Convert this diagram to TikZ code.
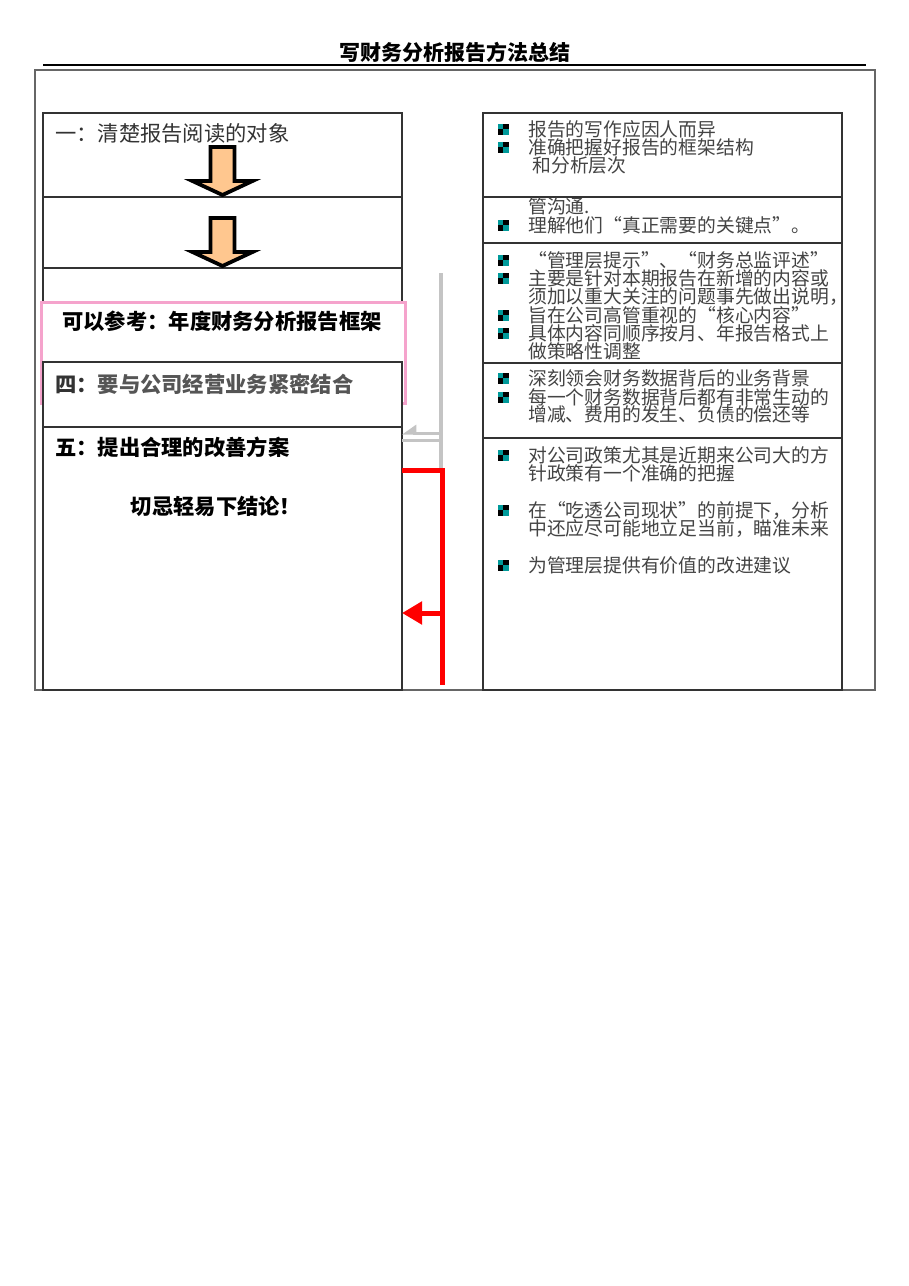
\documentclass[tikz,border=0pt]{standalone}
\usepackage{fontspec}
\setmainfont{Noto Sans CJK SC}
\usepackage{xcolor}
\usetikzlibrary{positioning,arrows.meta}
\definecolor{textGray}{HTML}{444444}
\definecolor{headGray}{HTML}{555555}
\definecolor{arrowFill}{HTML}{FFC78F}
\definecolor{bulletTeal}{HTML}{009A9A}
\definecolor{linkGray}{HTML}{C4C4C4}
\definecolor{framePink}{HTML}{F5A3CC}
\newcommand{\rightFont}{\fontsize{18.8}{18.4}\selectfont}
\newcommand{\leftFont}{\fontsize{21.3}{24}\selectfont}
\tikzset{%
  leftBox/.style={rectangle, draw=black!80, fill=white, line width=1.5pt, inner sep=0pt, outer sep=0pt, minimum width=359pt},
  rightBox/.style={rectangle, draw=black!80, fill=white, line width=1.5pt, inner sep=0pt, outer sep=0pt, minimum width=359pt},
  pinkBox/.style={rectangle, draw=framePink, fill=white, line width=2.8pt, inner sep=0pt, minimum width=364pt, minimum height=101pt},
  % texts
  titleText/.style={font=\fontsize{21}{24}\selectfont\bfseries, inner sep=0pt},
  leftText/.style={font=\leftFont, text=black!80, inner sep=0pt, anchor=base west},
  boldText/.style={font=\leftFont\bfseries, text=black, inner sep=0pt},
  rightText/.style={font=\rightFont, text=textGray, inner sep=0pt, anchor=base west},
  % connectors
  frameLine/.style={draw=black!60, line width=1.2pt},
  arrowBody/.style={draw=black, fill=arrowFill, line width=3.8pt, miter limit=10},
  linkLine/.style={draw=linkGray, line width=4.5pt},
  linkThin/.style={draw=linkGray, line width=3pt},
  redLine/.style={draw=red, line width=5pt},
  %
  downArrow/.pic={\draw[arrowBody] (-12,-50) -- (12,-50) -- (12,-16) -- (30,-16) -- (0,-2) -- (-30,-16) -- (-12,-16) -- cycle;},
  bulletSq/.pic={\fill[bulletTeal] (-5.5,-5.5) rectangle (5.5,5.5);
    \fill[black] (0,-5.5) rectangle (5.5,0);
    \fill[black] (-5.5,0) rectangle (0,5.5);}
}
\begin{document}
\begin{tikzpicture}[x=1pt,y=-1pt]
    \useasboundingbox (0,0) rectangle (909,1286);

    %Frame
    \node[titleText] (title) at (455,52) {写财务分析报告方法总结};
    \draw[line width=1.6pt] (43,65) -- (866,65);
    \draw[frameLine] (35,70) rectangle (875,690);

    %Left column
    \node[leftBox, minimum height=84pt, anchor=north west] (one) at (43,113) {};
    \node[leftBox, minimum height=71pt] (two) [below=0pt of one] {};
    \node[leftBox, minimum height=94pt] (three) [below=0pt of two] {};
    \node[pinkBox, anchor=north west] (refFrame) at (40,301) {};
    \node[leftBox, minimum height=65pt] (four) [below=0pt of three] {};
    \node[leftBox, minimum height=263pt] (five) [below=0pt of four] {};

    \node[leftText] (oneText) at (55,141) {一：清楚报告阅读的对象};
    \node[boldText] (refText) at (222,321) {可以参考：年度财务分析报告框架};
    \node[leftText, font=\leftFont\bfseries] (fourText) at (55,392) {四：\textcolor{headGray}{要与公司经营业务紧密结合}};
    \node[leftText, font=\leftFont\bfseries, text=black] (fiveText) at (55,455) {五：提出合理的改善方案};
    \node[boldText] (warnText) at (216,506) {切忌轻易下结论！};

    \pic at (one.south) {downArrow};
    \pic at (two.south) {downArrow};

    %Right column
    \node[rightBox, minimum height=84pt, anchor=north west] (rOne) at (483,113) {};
    \node[rightBox, minimum height=46pt] (rTwo) [below=0pt of rOne] {};
    \node[rightBox, minimum height=120pt] (rThree) [below=0pt of rTwo] {};
    \node[rightBox, minimum height=75pt] (rFour) [below=0pt of rThree] {};
    \node[rightBox, minimum height=252pt] (rFive) [below=0pt of rFour] {};

    \foreach \y/\t [count=\i] in {
        129/报告的写作应因人而异, 147/准确把握好报告的框架结构, 165/\ 和分析层次,
        206/管沟通., 225/理解他们“真正需要的关键点”。,
        260/“管理层提示”、“财务总监评述”, 278/主要是针对本期报告在新增的内容或,
        296/须加以重大关注的问题事先做出说明，, 315/旨在公司高管重视的“核心内容”,
        333/具体内容同顺序按月、年报告格式上, 351/做策略性调整,
        378/深刻领会财务数据背后的业务背景, 397/每一个财务数据背后都有非常生动的,
        414/增减、费用的发生、负债的偿还等,
        455/对公司政策尤其是近期来公司大的方, 473/针政策有一个准确的把握,
        510/在“吃透公司现状”的前提下，分析, 528/中还应尽可能地立足当前，瞄准未来,
        565/为管理层提供有价值的改进建议}
        \node[rightText] (rLine\i) at (528,\y+7) {\t};

    \foreach \y in {129,147,225,260,278,315,333,378,397,455,510,565}
        \pic at (503,\y) {bulletSq};

    %Lines
    \coordinate (gTop) at (441,273);
    \coordinate (gBot) at (441,468);
    \coordinate (gJoinA) at (441,433);
    \coordinate (gJoinB) at (441,440);
    \draw[linkLine] (gTop) -- (gBot);
    \draw[linkThin, -{Triangle[length=12pt,width=16pt,right]}] (gJoinA) -- (gJoinA -| five.east);
    \draw[linkThin] (gJoinB) -- (gJoinB -| five.east);

    \coordinate (rCorner) at (442,470);
    \coordinate (rEnd) at (442,685);
    \coordinate (rJoin) at (442,613);
    \draw[redLine] (rCorner -| five.east) -- (rCorner) -- (rEnd);
    \draw[redLine, -{Triangle[length=20pt,width=22pt]}] (rJoin) -- (rJoin -| five.east);
\end{tikzpicture}
\end{document}
